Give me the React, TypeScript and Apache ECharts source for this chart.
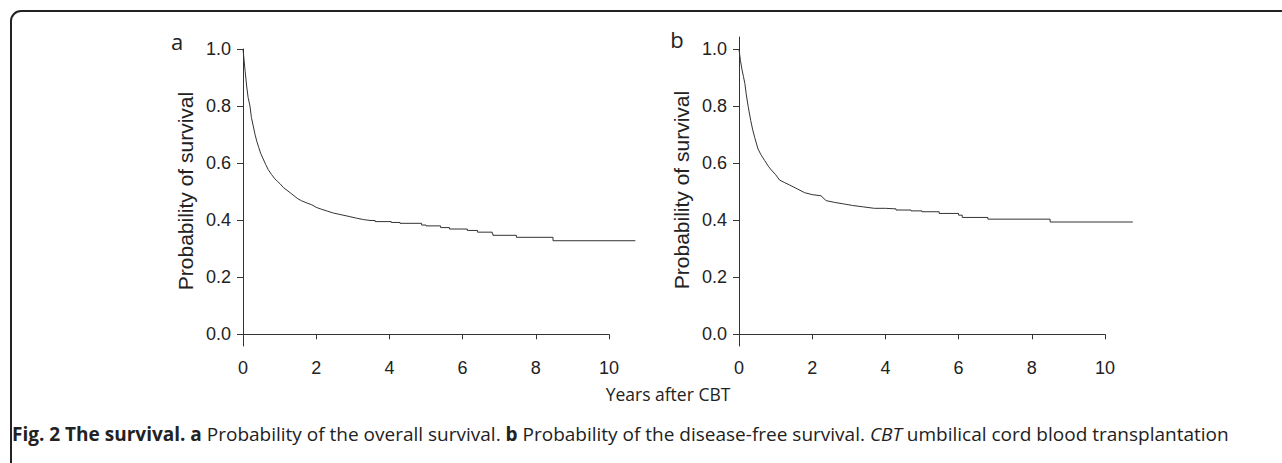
import React, { useEffect, useRef } from "react";
import * as echarts from "echarts";

// Panel a: overall survival (time in years, survival probability)
const osTimes = [0, 0.03, 0.06, 0.1, 0.14, 0.19, 0.23, 0.28, 0.33, 0.38, 0.43, 0.48, 0.55, 0.62, 0.69, 0.78, 0.87, 0.95, 1.01, 1.1, 1.2, 1.3, 1.42, 1.5, 1.6, 1.75, 1.88, 2.0, 2.15, 2.3, 2.47, 2.65, 2.9, 3.1, 3.3, 3.47, 3.61, 4.05, 4.29, 4.88, 5.0, 5.4, 5.64, 6.13, 6.41, 6.81, 6.83, 7.47, 8.47, 10.72];
const osValues = [1.0, 0.96, 0.92, 0.87, 0.83, 0.8, 0.76, 0.73, 0.7, 0.675, 0.655, 0.635, 0.615, 0.595, 0.577, 0.56, 0.545, 0.535, 0.528, 0.515, 0.505, 0.495, 0.483, 0.475, 0.468, 0.46, 0.454, 0.445, 0.438, 0.432, 0.425, 0.42, 0.413, 0.407, 0.402, 0.399, 0.395, 0.392, 0.389, 0.383, 0.38, 0.374, 0.369, 0.364, 0.358, 0.352, 0.347, 0.34, 0.328, 0.328];

// Panel b: disease-free survival
const dfsTimes = [0, 0.04, 0.08, 0.12, 0.16, 0.2, 0.25, 0.32, 0.37, 0.43, 0.52, 0.6, 0.7, 0.8, 0.88, 1.0, 1.11, 1.25, 1.38, 1.55, 1.79, 2.0, 2.24, 2.38, 2.6, 2.88, 3.1, 3.4, 3.7, 4.0, 4.29, 4.7, 5.0, 5.47, 6.0, 6.1, 6.8, 8.5, 10.76];
const dfsValues = [1.0, 0.96, 0.93, 0.905, 0.88, 0.84, 0.8, 0.75, 0.72, 0.69, 0.65, 0.63, 0.61, 0.59, 0.577, 0.56, 0.541, 0.532, 0.524, 0.513, 0.497, 0.49, 0.486, 0.469, 0.463, 0.457, 0.452, 0.447, 0.442, 0.44, 0.436, 0.433, 0.43, 0.424, 0.418, 0.41, 0.404, 0.394, 0.394];

// Before these times the events are so dense that the curve reads as a smooth line
const osDenseUntil = 3.47;
const dfsDenseUntil = 3.7;

const yTicks = [0, 0.2, 0.4, 0.6, 0.8, 1.0];
const xMin = 0;
const xMax = 10;
const xDataMax = 11; // plotting range extends past the last labelled tick
const xInterval = 2;
const panelLetters = ["a", "b"];
const yTitle = "Probability of survival";
const xTitle = "Years after CBT";

const tickFont = "Liberation Sans, Arial, sans-serif";
const capFont = "Open Sans, sans-serif";
const axisColor = "#333";
const textColor = "#222";
const curveColor = "#333";

const axisW = 366;
const panels = [
  { left: 243, top: 49, height: 297, yMax: 1.0 },
  { left: 739, top: 37, height: 309, yMax: 1.043 },
];
const yMin = -0.041;

function makeX(gridIndex: number, visible: boolean, max: number) {
  return {
    type: "value",
    gridIndex,
    min: xMin,
    max,
    interval: xInterval,
    show: visible,
    splitLine: { show: false },
    axisLine: { show: true, lineStyle: { color: axisColor, width: 1 } },
    axisTick: { show: true, length: 5, lineStyle: { color: axisColor } },
    axisLabel: { color: textColor, fontSize: 18, fontFamily: tickFont, margin: 13 },
  };
}

function makeY(gridIndex: number, visible: boolean, max: number) {
  return {
    type: "value",
    gridIndex,
    min: yMin,
    max,
    show: visible,
    splitLine: { show: false },
    axisLine: { show: true, lineStyle: { color: axisColor, width: 1 } },
    axisTick: { show: true, length: 6, customValues: yTicks, lineStyle: { color: axisColor } },
    axisLabel: {
      color: textColor,
      fontSize: 18,
      fontFamily: tickFont,
      margin: 12,
      customValues: yTicks,
      formatter: (v: number) => v.toFixed(1),
    },
  };
}

function curveSeries(times: number[], values: number[], cut: number, axisIndex: number) {
  const pts = times.map((t, i) => [t, values[i]]);
  const dense = pts.filter((p) => p[0] <= cut);
  const sparse = pts.filter((p) => p[0] >= cut);
  const base = {
    type: "line",
    xAxisIndex: axisIndex,
    yAxisIndex: axisIndex,
    symbol: "none",
    lineStyle: { color: curveColor, width: 1 },
  };
  return [
    { ...base, data: dense },
    { ...base, data: sparse, step: "end" },
  ];
}

export default function App() {
  const ref = useRef<HTMLDivElement>(null);
  useEffect(() => {
    if (!ref.current) return;
    const chart = echarts.init(ref.current, undefined, { renderer: "svg" });
    const dataW = (axisW * xDataMax) / xMax;
    const grids: any[] = [];
    const xAxes: any[] = [];
    const yAxes: any[] = [];
    panels.forEach((p, i) => {
      grids.push({ left: p.left, top: p.top, width: axisW, height: p.height });
      xAxes.push(makeX(i * 2, true, xMax));
      yAxes.push(makeY(i * 2, true, p.yMax));
      grids.push({ left: p.left, top: p.top, width: dataW, height: p.height });
      xAxes.push(makeX(i * 2 + 1, false, xDataMax));
      yAxes.push(makeY(i * 2 + 1, false, p.yMax));
    });
    chart.setOption({
      animation: false,
      backgroundColor: "#fff",
      grid: grids,
      xAxis: xAxes,
      yAxis: yAxes,
      series: [
        ...curveSeries(osTimes, osValues, osDenseUntil, 1),
        ...curveSeries(dfsTimes, dfsValues, dfsDenseUntil, 3),
      ],
      graphic: [
        {
          type: "rect",
          shape: { x: 11, y: 11, width: 1400, height: 600, r: [10, 0, 0, 0] },
          style: { fill: "none", stroke: "#222", lineWidth: 2 },
          silent: true,
        },
        {
          type: "text",
          x: 177,
          y: 41,
          style: { text: panelLetters[0], font: "22px " + capFont, fill: textColor, align: "center", verticalAlign: "middle" },
        },
        {
          type: "text",
          x: 677,
          y: 39,
          style: { text: panelLetters[1], font: "22px " + capFont, fill: textColor, align: "center", verticalAlign: "middle" },
        },
        {
          type: "text",
          x: 185,
          y: 191,
          rotation: Math.PI / 2,
          style: { text: yTitle, font: "21px " + tickFont, fill: textColor, align: "center", verticalAlign: "middle" },
        },
        {
          type: "text",
          x: 681,
          y: 190,
          rotation: Math.PI / 2,
          style: { text: yTitle, font: "21px " + tickFont, fill: textColor, align: "center", verticalAlign: "middle" },
        },
        {
          type: "text",
          x: 668,
          y: 394,
          style: { text: xTitle, font: "17.5px " + capFont, fill: textColor, align: "center", verticalAlign: "middle" },
        },
        {
          type: "text",
          x: 12,
          y: 434,
          style: {
            text:
              "{b|Fig. 2 The survival. a} Probability of the overall survival. {b|b} Probability of the disease-free survival. {i|CBT} umbilical cord blood transplantation",
            font: "19px " + capFont,
            fill: textColor,
            align: "left",
            verticalAlign: "middle",
            rich: {
              b: { fontWeight: "bold", fontFamily: capFont, fontSize: 19, fill: textColor },
              i: { fontStyle: "italic", fontFamily: capFont, fontSize: 19, fill: textColor },
            },
          },
        },
      ],
    });
    return () => chart.dispose();
  }, []);
  return (
    <div
      ref={ref}
      style={{ position: "absolute", left: 0, top: 0, width: 1282, height: 463 }}
    />
  );
}
